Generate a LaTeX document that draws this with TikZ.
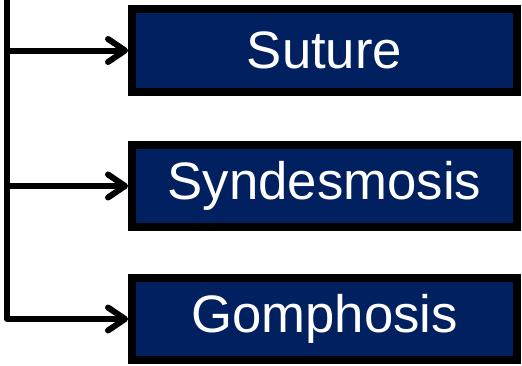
\documentclass[tikz,border=0pt]{standalone}
\usepackage{fontspec}
\setmainfont{Liberation Sans}
\usetikzlibrary{arrows.meta}
\definecolor{navy}{HTML}{002060}

\begin{document}
\begin{tikzpicture}[
    x=0.02cm, y=-0.02cm,
    joint/.style={rectangle, draw=black, fill=navy, line width=0.16cm,
                  minimum width=7.7cm, minimum height=1.66cm,
                  text=white, font=\fontsize{30}{32}\selectfont, inner sep=0pt},
    link/.style={black, line width=0.12cm, line cap=round, line join=round},
    tip/.style={link, -{Straight Barb[length=0.34cm, width=0.46cm, round]}},
]
\useasboundingbox (0,0) rectangle (522,366);

% ================================================ the three kinds
\node[joint] (suture)      at (324.5, 50.5) {Suture};
\node[joint] (syndesmosis) at (324.5, 186)  {Syndesmosis};
\node[joint] (gomphosis)   at (324.5, 319)  {Gomphosis};

% ================================================ trunk and branches
\coordinate (top) at (7, -2);
\draw[tip] (top) |- (gomphosis.west);
\draw[tip] (top |- suture.west) -- (suture.west);
\draw[tip] (top |- syndesmosis.west) -- (syndesmosis.west);

\end{tikzpicture}
\end{document}
